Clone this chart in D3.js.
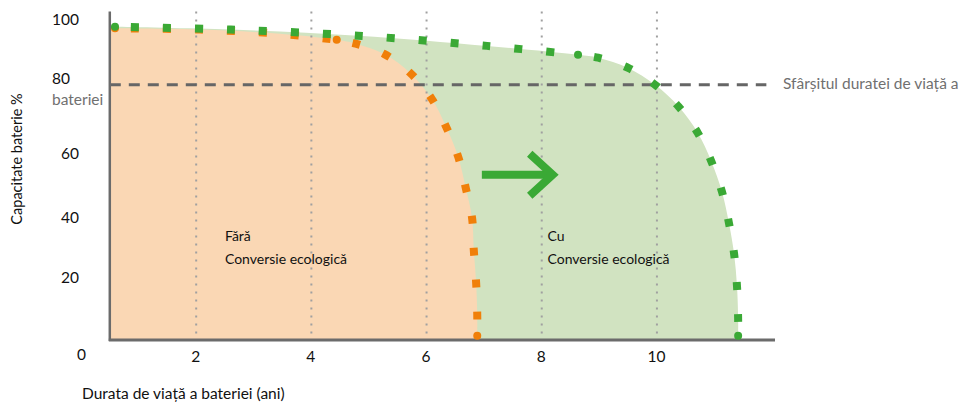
<!DOCTYPE html>
<html>
<head>
<meta charset="utf-8">
<script src="https://cdn.jsdelivr.net/npm/d3@7"></script>
<style>
  html, body { margin: 0; padding: 0; background: #ffffff; }
  svg { display: block; font-family: Lato, "Open Sans", sans-serif; }
</style>
</head>
<body>
<svg id="chart" width="964" height="403"></svg>
<script>
// ---- data ----
const xTicks = [0, 2, 4, 6, 8, 10];
const yTicks = [20, 40, 60, 80, 100];
const gridYears = [2, 4, 6, 8, 10];
const endOfLife = 80;

// Without eco conversion ("Fără")
const orangeTop = [[0.59, 97.7], [2.07, 97.3], [3.45, 96.0], [4.44, 94.1]];
const orangeCurve = [[4.44, 94.1], [4.77, 92.9], [5.26, 89.7], [5.71, 83.8], [6.09, 75.6], [6.34, 66.8],
  [6.55, 57.4], [6.68, 47.7], [6.79, 38.3], [6.82, 28.2], [6.86, 18.2], [6.88, 8.2], [6.88, 1.3]];

// With eco conversion ("Cu")
const greenTop = [[0.59, 98.2], [2.60, 97.3], [4.81, 95.4], [7.05, 92.2], [8.63, 89.4]];
const greenCurve = [[8.63, 89.4], [8.98, 88.5], [9.50, 85.3], [9.97, 80.0], [10.38, 73.1], [10.71, 64.9],
  [10.94, 56.2], [11.13, 46.4], [11.25, 36.7], [11.34, 27.0], [11.39, 16.9], [11.41, 6.6], [11.41, 1.3]];

const arrowFrom = [6.96, 51.8];
const arrowTo = [8.26, 51.8];

const xStart = 0.5, xEnd = 12.05;

const texts = {
  yTitle: "Capacitate baterie %",
  xTitle: "Durata de viață a bateriei (ani)",
  eolA: "Sfârșitul duratei de viață a",
  eolB: "bateriei",
  withoutA: "Fără",
  withoutB: "Conversie ecologică",
  withA: "Cu",
  withB: "Conversie ecologică"
};

// ---- styles ----
const C = {
  orange: "#f07f09",
  green: "#3aa935",
  orangeFill: "#fad7b4",
  greenFill: "#d1e3c1",
  axis: "#6b6b6b",
  grid: "#a0a0a0",
  ref: "#666666",
  grayText: "#707070",
  text: "#111111"
};
const FS = 15.5;

const svg = d3.select("#chart");
const x = d3.scaleLinear().domain([0, 12.05]).range([81, 775]);
const y = d3.scaleLinear().domain([0, 100]).range([340, 21]);

const line = d3.line().x(d => x(d[0])).y(d => y(d[1])).curve(d3.curveCatmullRom.alpha(0.5));

function fillPath(top, curve) {
  const pts = [[xStart, top[0][1]]].concat(top.slice(0), curve.slice(1));
  const last = pts[pts.length - 1];
  return line(pts) + "L" + x(last[0] + 0.08) + "," + y(0) + "L" + x(xStart) + "," + y(0) + "Z";
}

// fills
svg.append("path").attr("d", fillPath(greenTop, greenCurve)).attr("fill", C.greenFill);
svg.append("path").attr("d", fillPath(orangeTop, orangeCurve)).attr("fill", C.orangeFill);

// gridlines
svg.append("g").selectAll("line").data(gridYears).join("line")
  .attr("x1", d => x(d)).attr("x2", d => x(d))
  .attr("y1", y(103)).attr("y2", y(0))
  .attr("stroke", C.grid).attr("stroke-width", 2).attr("stroke-dasharray", "2,6");

// end-of-life reference line
svg.append("line")
  .attr("x1", x(xStart)).attr("x2", x(11.9))
  .attr("y1", y(endOfLife)).attr("y2", y(endOfLife))
  .attr("stroke", C.ref).attr("stroke-width", 3).attr("stroke-dasharray", "11,8");

// axes lines
svg.append("line").attr("x1", x(xStart)).attr("x2", x(xStart)).attr("y1", y(103)).attr("y2", y(0) + 1)
  .attr("stroke", C.axis).attr("stroke-width", 2.5);
svg.append("line").attr("x1", x(xStart) - 1).attr("x2", x(xEnd)).attr("y1", y(0)).attr("y2", y(0))
  .attr("stroke", C.axis).attr("stroke-width", 3);

// x tick labels via axis
const xAxis = svg.append("g").attr("transform", `translate(0,${y(0)})`)
  .call(d3.axisBottom(x).tickValues(xTicks).tickSize(0).tickPadding(11).tickFormat(d3.format("d")));
xAxis.select(".domain").remove();
xAxis.selectAll("text").attr("font-size", FS).attr("fill", C.text).attr("font-family", "Lato, sans-serif")
  .attr("dx", d => d === 0 ? 0 : -1).attr("dy", d => d === 0 ? "0.55em" : "0.71em");

// y tick labels
svg.append("g").selectAll("text").data(yTicks).join("text")
  .attr("x", d => d === 80 ? 52 : 79)
  .attr("y", d => y(d) + (d === 80 ? -6 : (d === 100 ? -1 : (d === 20 ? 1 : 5))))
  .attr("dy", "0.35em")
  .attr("text-anchor", d => d === 80 ? "start" : "end")
  .attr("font-size", FS).attr("fill", C.text)
  .text(d => d);

// reference line label
svg.append("text").attr("x", x(xEnd) + 8).attr("y", y(endOfLife)).attr("dy", "0.3em")
  .attr("font-size", FS).attr("fill", C.grayText).text(texts.eolA);
svg.append("text").attr("x", 52).attr("y", y(endOfLife) + 15).attr("dy", "0.35em")
  .attr("font-size", FS).attr("fill", C.grayText).text(texts.eolB);

// axis titles
svg.append("text").attr("transform", `translate(22,${159}) rotate(-90)`)
  .attr("text-anchor", "middle").attr("font-size", 14.5).attr("fill", C.text).text(texts.yTitle);
svg.append("text").attr("x", 82).attr("y", 399)
  .attr("font-size", FS).attr("fill", C.text).text(texts.xTitle);

// region labels
function label(xv, lines) {
  const g = svg.append("g");
  lines.forEach((t, i) => {
    g.append("text").attr("x", x(xv)).attr("y", 236 + i * 23).attr("dy", "0.35em")
      .attr("font-size", 14).attr("fill", C.text).text(t);
  });
}
label(2.5, [texts.withoutA, texts.withoutB]);
label(8.1, [texts.withA, texts.withB]);

// arrow
const tipX = x(arrowTo[0]) - 4, tipY = y(arrowTo[1]);
const arrowG = svg.append("g").attr("stroke", C.green).attr("stroke-width", 8).attr("fill", "none");
arrowG.append("line").attr("x1", x(arrowFrom[0])).attr("x2", tipX - 4)
  .attr("y1", y(arrowFrom[1])).attr("y2", tipY);
arrowG.append("path")
  .attr("d", `M${tipX - 23},${tipY - 21}L${tipX},${tipY}L${tipX - 23},${tipY + 21}`)
  .attr("stroke-linejoin", "miter").attr("stroke-miterlimit", 2);

// dotted series
function series(segs, color, joints) {
  const g = svg.append("g");
  segs.forEach(s => {
    g.append("path").attr("d", line(s)).attr("fill", "none")
      .attr("stroke", color).attr("stroke-width", 8)
      .attr("stroke-dasharray", "8,24").attr("stroke-dashoffset", 16);
  });
  g.selectAll("circle").data(joints).join("circle")
    .attr("cx", d => x(d[0])).attr("cy", d => y(d[1])).attr("r", 4).attr("fill", color);
}
series([orangeTop, orangeCurve], C.orange,
  [orangeTop[0], orangeTop[orangeTop.length - 1], orangeCurve[orangeCurve.length - 1]]);
series([greenTop, greenCurve], C.green,
  [greenTop[0], greenTop[greenTop.length - 1], greenCurve[greenCurve.length - 1]]);
</script>
</body>
</html>
